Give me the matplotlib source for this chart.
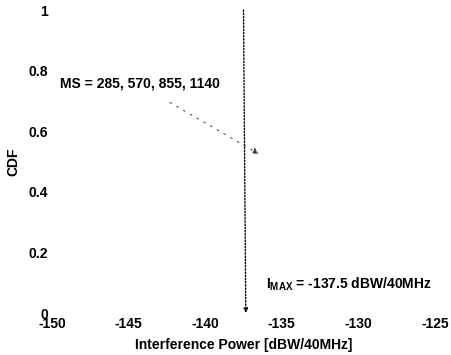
import matplotlib
matplotlib.use("Agg")
import matplotlib.pyplot as plt

# Data
x_ticks = [-150, -145, -140, -135, -130, -125]
y_ticks = [0, 0.2, 0.4, 0.6, 0.8, 1]
y_tick_labels = ["0", "0.2", "0.4", "0.6", "0.8", "1"]
ms_values = [285, 570, 855, 1140]
i_max = -137.5
ms_arrow_start = (-142.3, 0.695)
ms_arrow_end = (-136.5, 0.525)

plt.rcParams['font.family'] = ['Liberation Sans', 'DejaVu Sans']
plt.rcParams['font.weight'] = 'bold'
plt.rcParams['mathtext.fontset'] = 'custom'
plt.rcParams['mathtext.rm'] = 'Liberation Sans:bold'
plt.rcParams['mathtext.bf'] = 'Liberation Sans:bold'
plt.rcParams['mathtext.it'] = 'Liberation Sans:bold'

fig = plt.figure(figsize=(4.51, 3.55), dpi=100)
ax = fig.add_axes([0.1153, 0.1183, 0.8492, 0.8535])
ax.set_xlim(-150, -125)
ax.set_ylim(0, 1)
for s in ax.spines.values():
    s.set_visible(False)
ax.set_xticks(x_ticks)
ax.set_xticklabels([str(v) for v in x_ticks], fontsize=10, fontweight='bold')
ax.set_yticks(y_ticks)
ax.set_yticklabels(y_tick_labels, fontsize=10, fontweight='bold')
ax.tick_params(length=0, pad=3)

ax.set_xlabel("Interference Power [dBW/40MHz]", fontsize=10, fontweight='bold', labelpad=5)
ax.set_ylabel("CDF", fontsize=10, fontweight='bold', labelpad=6)

# I_MAX vertical dotted line with arrow
ax.annotate("", xy=(i_max + 0.15, 0), xytext=(i_max, 1),
            arrowprops=dict(arrowstyle='-|>', linestyle=(0, (1, 1.3)), lw=1.0,
                            color='black', shrinkA=0, shrinkB=0, mutation_scale=6))

ax.text(-136.0, 0.095, r"$\mathregular{I_{MAX}}$ = -137.5 dBW/40MHz",
        fontsize=10, fontweight='bold', ha='left', va='center')

# MS annotation
ms_text = "MS = " + ", ".join(str(v) for v in ms_values)
ax.text(-149.5, 0.757, ms_text, fontsize=10, fontweight='bold', ha='left', va='center')
ax.annotate("", xy=ms_arrow_end, xytext=ms_arrow_start,
            arrowprops=dict(arrowstyle='-|>', linestyle=(0, (2, 6)), lw=0.7,
                            color='0.25', shrinkA=0, shrinkB=0, mutation_scale=9))

fig.savefig("out.png", dpi=100)
